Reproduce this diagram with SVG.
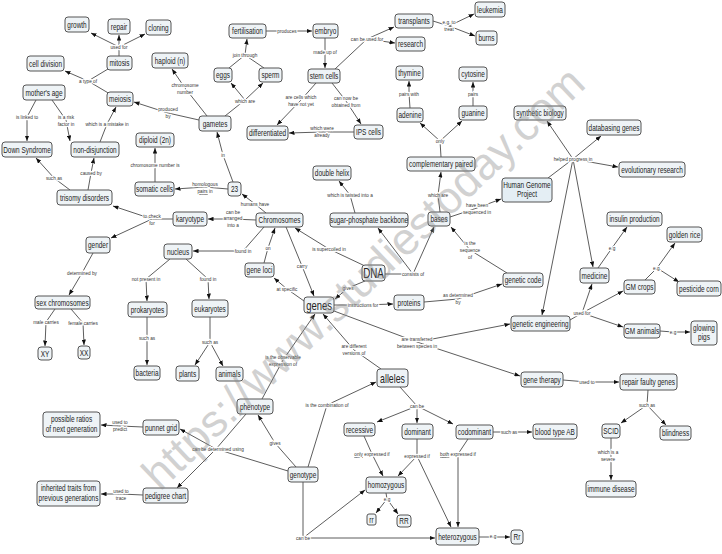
<svg xmlns="http://www.w3.org/2000/svg" width="722" height="554" viewBox="0 0 722 554">
<style>
.bx{fill:#eef3f6;stroke:#555;stroke-width:1}
.hg{fill:#e4eef4}
.n{font-family:"Liberation Sans",Arial,sans-serif;font-size:8.5px;text-anchor:middle;fill:#222}
.big{font-size:13.5px}
.l{font-family:"Liberation Sans",Arial,sans-serif;font-size:6.2px;text-anchor:middle;fill:#333;stroke:#fff;stroke-width:2.4px;paint-order:stroke;stroke-linejoin:round}
.u{text-decoration:underline}
#links path{fill:none;stroke:#333;stroke-width:.8}
#links path.a{marker-end:url(#ah)}
.wm{font-family:"Liberation Sans",Arial,sans-serif;font-size:45px;fill:#888;opacity:.38}
</style>
<defs>
<marker id="ah" viewBox="0 0 10 8" refX="10" refY="4" markerWidth="5.5" markerHeight="4.4" markerUnits="userSpaceOnUse" orient="auto"><path d="M0,0 L10,4 L0,8 z" fill="#111"/></marker>
</defs>
<rect width="722" height="554" fill="#fff"/>
<g id="links">
<path d="M119,56 L119,47"/><path class="a" d="M119,47 L91,33"/><path class="a" d="M119,47 L119,35"/><path class="a" d="M119,47 L145,34"/>
<path d="M108,69 L88,81"/><path d="M110,94 L88,81"/><path class="a" d="M88,81 L65,71"/>
<path d="M36,100 L27,117"/><path class="a" d="M27,117 L27,141"/>
<path d="M52,100 L66,120"/><path class="a" d="M66,120 L70,141"/>
<path d="M100,142 L107,124"/><path class="a" d="M107,124 L116,107"/>
<path d="M70,190 L54,178"/><path class="a" d="M54,178 L36,158"/>
<path d="M88,190 L91,173"/><path class="a" d="M91,173 L94,158"/>
<path d="M207,116 L185,88"/><path class="a" d="M185,88 L172,69"/>
<path d="M199,120 L168,113"/><path class="a" d="M168,113 L134,102"/>
<path d="M233,182 L223,155"/><path class="a" d="M223,155 L217,132"/>
<path d="M228,189 L205,187"/><path class="a" d="M205,187 L175,189"/>
<path d="M155,182 L155,165"/><path class="a" d="M155,165 L155,148"/>
<path d="M266,213 L255,204"/><path class="a" d="M255,204 L242,194"/>
<path d="M256,220 L233,219"/><path class="a" d="M233,219 L208,219"/>
<path d="M173,219 L152,219"/><path class="a" d="M152,219 L113,206"/><path class="a" d="M152,219 L111,238"/>
<path d="M93,253 L82,273"/><path class="a" d="M82,273 L69,295"/>
<path d="M55,309 L46,322"/><path class="a" d="M46,322 L45,346"/>
<path d="M71,309 L83,323"/><path class="a" d="M83,323 L84,345"/>
<path d="M264,227 L243,251"/><path class="a" d="M243,251 L193,251"/>
<path d="M264,263 L268,248"/><path class="a" d="M268,248 L275,228"/>
<path d="M286,227 L302,266"/><path class="a" d="M302,266 L314,296"/>
<path d="M365,266 L329,249"/><path class="a" d="M329,249 L295,228"/>
<path d="M385,274 L413,274"/><path class="a" d="M413,274 L378,228"/><path class="a" d="M413,274 L434,227"/>
<path d="M355,213 L350,195"/><path class="a" d="M350,195 L339,181"/>
<path d="M440,212 L438,195"/><path class="a" d="M438,195 L441,172"/>
<path d="M441,157 L440,141"/><path class="a" d="M440,141 L420,123"/><path class="a" d="M440,141 L462,121"/>
<path d="M410,108 L409,94"/><path class="a" d="M409,94 L409,81"/>
<path d="M473,106 L473,94"/><path class="a" d="M473,94 L473,82"/>
<path d="M450,217 L477,208"/><path class="a" d="M477,208 L501,199"/>
<path d="M507,273 L470,250"/><path class="a" d="M470,250 L451,227"/>
<path d="M424,302 L458,299"/><path class="a" d="M458,299 L502,284"/>
<path d="M365,281 L348,288"/><path class="a" d="M348,288 L335,299"/>
<path d="M334,305 L363,305"/><path class="a" d="M363,305 L393,304"/>
<path d="M304,301 L287,289"/><path class="a" d="M287,289 L274,278"/>
<path d="M334,311 L417,342"/><path class="a" d="M417,342 L510,324"/><path class="a" d="M417,342 L520,376"/>
<path d="M570,320 L582,313"/><path class="a" d="M582,313 L592,284"/><path class="a" d="M582,313 L623,291"/><path class="a" d="M582,313 L623,327"/>
<path d="M548,178 L573,159"/><path class="a" d="M573,159 L547,121"/><path class="a" d="M573,159 L601,136"/><path class="a" d="M573,159 L618,167"/><path class="a" d="M573,159 L593,267"/><path class="a" d="M573,159 L542,315"/>
<path d="M598,268 L612,248"/><path class="a" d="M612,248 L627,227"/>
<path d="M645,280 L657,268"/><path class="a" d="M657,268 L675,243"/><path class="a" d="M657,268 L679,282"/>
<path d="M660,331 L673,332"/><path class="a" d="M673,332 L690,332"/>
<path d="M563,380 L587,382"/><path class="a" d="M587,382 L619,382"/>
<path d="M648,390 L647,405"/><path class="a" d="M647,405 L621,423"/><path class="a" d="M647,405 L666,425"/>
<path d="M611,438 L611,456"/><path class="a" d="M611,456 L611,480"/>
<path d="M493,432 L509,432"/><path class="a" d="M509,432 L532,432"/>
<path d="M479,537 L493,537"/><path class="a" d="M493,537 L510,537"/>
<path d="M400,387 L417,406"/><path class="a" d="M417,406 L377,422"/><path class="a" d="M417,406 L417,423"/><path class="a" d="M417,406 L453,424"/>
<path d="M364,436 L372,454"/><path class="a" d="M372,454 L383,476"/>
<path d="M417,439 L417,456"/><path class="a" d="M417,456 L398,476"/><path class="a" d="M417,456 L451,527"/>
<path d="M468,439 L458,454"/><path class="a" d="M458,454 L458,527"/>
<path d="M386,493 L387,499"/><path class="a" d="M387,499 L376,513"/><path class="a" d="M387,499 L398,514"/>
<path d="M303,482 L303,538"/><path class="a" d="M303,538 L365,490"/><path class="a" d="M303,538 L435,538"/>
<path d="M308,467 L327,405"/><path class="a" d="M327,405 L376,382"/>
<path d="M296,467 L275,443"/><path class="a" d="M275,443 L258,415"/>
<path d="M262,399 L283,360"/><path class="a" d="M283,360 L315,314"/>
<path d="M381,369 L354,350"/><path class="a" d="M354,350 L323,314"/>
<path d="M246,414 L216,449"/><path d="M288,471 L216,449"/><path class="a" d="M216,449 L180,429"/><path class="a" d="M216,449 L177,488"/>
<path d="M143,427 L120,426"/><path class="a" d="M120,426 L101,425"/>
<path d="M143,495 L121,494"/><path class="a" d="M121,494 L101,494"/>
<path d="M170,259 L146,279"/><path class="a" d="M146,279 L147,301"/>
<path d="M186,259 L208,279"/><path class="a" d="M208,279 L209,299"/>
<path d="M147,317 L147,338"/><path class="a" d="M147,338 L147,365"/>
<path d="M210,317 L210,342"/><path class="a" d="M210,342 L195,365"/><path class="a" d="M210,342 L223,366"/>
<path d="M335,69 L367,39"/><path class="a" d="M367,39 L394,27"/><path class="a" d="M367,39 L395,43"/>
<path d="M433,21 L449,26"/><path class="a" d="M449,26 L474,14"/><path class="a" d="M449,26 L475,36"/>
<path d="M325,38 L325,52"/><path class="a" d="M325,52 L325,68"/>
<path d="M266,31 L287,31"/><path class="a" d="M287,31 L312,31"/>
<path d="M229,68 L245,55"/><path d="M264,68 L245,55"/><path class="a" d="M245,55 L247,39"/>
<path d="M225,116 L245,100"/><path class="a" d="M245,100 L231,83"/><path class="a" d="M245,100 L263,83"/>
<path d="M316,83 L301,100"/><path class="a" d="M301,100 L277,125"/>
<path d="M332,83 L346,101"/><path class="a" d="M346,101 L361,124"/>
<path d="M354,132 L322,132"/><path class="a" d="M322,132 L289,133"/>
<g id="labels">
<text class="l" transform="translate(119 49) scale(.76 1)">used for</text>
<text class="l" transform="translate(88 83) scale(.76 1)">a type of</text>
<text class="l" transform="translate(27 119) scale(.76 1)">is linked to</text>
<text class="l" transform="translate(66 119) scale(.76 1)"><tspan x="0">is a risk</tspan><tspan x="0" dy="7">factor in</tspan></text>
<text class="l" transform="translate(107 126) scale(.76 1)">which is a mistake in</text>
<text class="l" transform="translate(54 180) scale(.76 1)">such as</text>
<text class="l" transform="translate(91 175) scale(.76 1)">caused by</text>
<text class="l" transform="translate(185 87) scale(.76 1)"><tspan x="0">chromosome</tspan><tspan x="0" dy="7">number</tspan></text>
<text class="l" transform="translate(168 111) scale(.76 1)"><tspan x="0">produced</tspan><tspan x="0" dy="7">by</tspan></text>
<text class="l" transform="translate(155 167) scale(.76 1)">chromosome number is</text>
<text class="l" transform="translate(205 186) scale(.76 1)"><tspan x="0">homologous</tspan><tspan x="0" dy="7"><tspan class="u">pairs</tspan> in</tspan></text>
<text class="l" transform="translate(223 157) scale(.76 1)">in</text>
<text class="l" transform="translate(287 33) scale(.76 1)">produces</text>
<text class="l" transform="translate(325 54) scale(.76 1)">made up of</text>
<text class="l" transform="translate(367 41) scale(.76 1)">can be used for</text>
<text class="l" transform="translate(449 24) scale(.76 1)"><tspan x="0">e.g. to</tspan><tspan x="0" dy="7">treat</tspan></text>
<text class="l" transform="translate(245 57) scale(.76 1)">join through</text>
<text class="l" transform="translate(245 103) scale(.76 1)">which are</text>
<text class="l" transform="translate(301 99) scale(.76 1)"><tspan x="0">are cells which</tspan><tspan x="0" dy="7">have not yet</tspan></text>
<text class="l" transform="translate(346 100) scale(.76 1)"><tspan x="0">can now be</tspan><tspan x="0" dy="7">obtained from</tspan></text>
<text class="l" transform="translate(322 130) scale(.76 1)"><tspan x="0">which were</tspan><tspan x="0" dy="7">already</tspan></text>
<text class="l" transform="translate(409 96) scale(.76 1)">pairs with</text>
<text class="l" transform="translate(473 96) scale(.76 1)">pairs</text>
<text class="l" transform="translate(440 143) scale(.76 1)">only</text>
<text class="l" transform="translate(573 161) scale(.76 1)">helped progress in</text>
<text class="l" transform="translate(350 197) scale(.76 1)">which is twisted into a</text>
<text class="l" transform="translate(255 206) scale(.76 1)">humans have</text>
<text class="l" transform="translate(233 214) scale(.76 1)"><tspan x="0">can be</tspan><tspan x="0" dy="6.5">arranged</tspan><tspan x="0" dy="6.5">into a</tspan></text>
<text class="l" transform="translate(243 253) scale(.76 1)">found in</text>
<text class="l" transform="translate(268 250) scale(.76 1)">on</text>
<text class="l" transform="translate(302 268) scale(.76 1)">carry</text>
<text class="l" transform="translate(329 251) scale(.76 1)">is supercoiled in</text>
<text class="l" transform="translate(413 276) scale(.76 1)">consists of</text>
<text class="l" transform="translate(438 197) scale(.76 1)">which are</text>
<text class="l" transform="translate(477 207) scale(.76 1)"><tspan x="0">have been</tspan><tspan x="0" dy="7">sequenced in</tspan></text>
<text class="l" transform="translate(470 245) scale(.76 1)"><tspan x="0">is the</tspan><tspan x="0" dy="7">sequence</tspan><tspan x="0" dy="7">of</tspan></text>
<text class="l" transform="translate(287 291) scale(.76 1)">at specific</text>
<text class="l" transform="translate(348 290) scale(.76 1)">gives</text>
<text class="l" transform="translate(363 307) scale(.76 1)">instructions for</text>
<text class="l" transform="translate(458 297) scale(.76 1)"><tspan x="0">as determined</tspan><tspan x="0" dy="7">by</tspan></text>
<text class="l" transform="translate(417 341) scale(.76 1)"><tspan x="0">are transferred</tspan><tspan x="0" dy="7">between species in</tspan></text>
<text class="l" transform="translate(354 348) scale(.76 1)"><tspan x="0">are different</tspan><tspan x="0" dy="7">versions of</tspan></text>
<text class="l" transform="translate(283 359) scale(.76 1)"><tspan x="0">is the observable</tspan><tspan x="0" dy="7">expression of</tspan></text>
<text class="l" transform="translate(612 250) scale(.76 1)">e.g</text>
<text class="l" transform="translate(657 270) scale(.76 1)">e.g.</text>
<text class="l" transform="translate(582 315) scale(.76 1)">used for</text>
<text class="l" transform="translate(673 334) scale(.76 1)">e.g</text>
<text class="l" transform="translate(587 384) scale(.76 1)">used to</text>
<text class="l" transform="translate(647 407) scale(.76 1)">such as</text>
<text class="l" transform="translate(608 454) scale(.76 1)"><tspan x="0">which is a</tspan><tspan x="0" dy="7.5">severe</tspan></text>
<text class="l" transform="translate(509 434) scale(.76 1)">such as</text>
<text class="l" transform="translate(493 538) scale(.76 1)">e.g</text>
<text class="l" transform="translate(417 408) scale(.76 1)">can be</text>
<text class="l" transform="translate(372 456) scale(.76 1)"><tspan class="u">only</tspan> expressed if</text>
<text class="l" transform="translate(417 458) scale(.76 1)">expressed if</text>
<text class="l" transform="translate(458 456) scale(.76 1)"><tspan class="u">both</tspan> expressed if</text>
<text class="l" transform="translate(387 501) scale(.76 1)">e.g</text>
<text class="l" transform="translate(303 540) scale(.76 1)">can be</text>
<text class="l" transform="translate(327 407) scale(.76 1)">is the combination of</text>
<text class="l" transform="translate(275 445) scale(.76 1)">gives</text>
<text class="l" transform="translate(218 451) scale(.76 1)">can be determined using</text>
<text class="l" transform="translate(120 424) scale(.76 1)"><tspan x="0">used to</tspan><tspan x="0" dy="7.5">predict</tspan></text>
<text class="l" transform="translate(121 493) scale(.76 1)"><tspan x="0">used to</tspan><tspan x="0" dy="7">trace</tspan></text>
<text class="l" transform="translate(152 218) scale(.76 1)"><tspan x="0">to check</tspan><tspan x="0" dy="7">for</tspan></text>
<text class="l" transform="translate(82 275) scale(.76 1)">determined by</text>
<text class="l" transform="translate(46 324) scale(.76 1)">male carries</text>
<text class="l" transform="translate(83 325) scale(.76 1)">female carries</text>
<text class="l" transform="translate(146 281) scale(.76 1)">not present in</text>
<text class="l" transform="translate(208 281) scale(.76 1)">found in</text>
<text class="l" transform="translate(147 340) scale(.76 1)">such as</text>
<text class="l" transform="translate(210 344) scale(.76 1)">such as</text>
</g>
</g>
<g id="nodes">
<g id="n-growth"><rect class="bx" x="65" y="17" width="24" height="15" rx="3"/><text class="n" transform="translate(77 27.5) scale(.76 1)">growth</text></g>
<g id="n-repair"><rect class="bx" x="108" y="19" width="22" height="15" rx="3"/><text class="n" transform="translate(119 29.5) scale(.76 1)">repair</text></g>
<g id="n-cloning"><rect class="bx" x="146" y="20" width="25" height="15" rx="3"/><text class="n" transform="translate(158.5 30.5) scale(.76 1)">cloning</text></g>
<g id="n-mitosis"><rect class="bx" x="107" y="56" width="25" height="14" rx="3"/><text class="n" transform="translate(119.5 66) scale(.76 1)">mitosis</text></g>
<g id="n-celldivision"><rect class="bx" x="27" y="56" width="37" height="15" rx="3"/><text class="n" transform="translate(45.5 66.5) scale(.76 1)">cell division</text></g>
<g id="n-meiosis"><rect class="bx" x="107" y="92" width="26" height="14" rx="3"/><text class="n" transform="translate(120 102) scale(.76 1)">meiosis</text></g>
<g id="n-mothersage"><rect class="bx" x="23" y="85" width="42" height="15" rx="3"/><text class="n" transform="translate(44 95.5) scale(.76 1)">mother's age</text></g>
<g id="n-downsyndrome"><rect class="bx" x="2" y="142" width="50" height="15" rx="3"/><text class="n" transform="translate(27 152.5) scale(.76 1)">Down Syndrome</text></g>
<g id="n-nondisjunction"><rect class="bx" x="71" y="142" width="48" height="15" rx="3"/><text class="n" transform="translate(95 152.5) scale(.76 1)">non-disjunction</text></g>
<g id="n-haploid"><rect class="bx" x="152" y="53" width="36" height="15" rx="3"/><text class="n" transform="translate(170 63.5) scale(.76 1)">haploid (n)</text></g>
<g id="n-gametes"><rect class="bx" x="199" y="116" width="32" height="15" rx="3"/><text class="n" transform="translate(215 126.5) scale(.76 1)">gametes</text></g>
<g id="n-diploid"><rect class="bx" x="136" y="133" width="38" height="14" rx="3"/><text class="n" transform="translate(155 143) scale(.76 1)">diploid (2n)</text></g>
<g id="n-somaticcells"><rect class="bx" x="135" y="182" width="39" height="14" rx="3"/><text class="n" transform="translate(154.5 192) scale(.76 1)">somatic cells</text></g>
<g id="n-23"><rect class="bx" x="228" y="182" width="13" height="14" rx="3"/><text class="n" transform="translate(234.5 192) scale(.76 1)">23</text></g>
<g id="n-fertilisation"><rect class="bx" x="229" y="24" width="37" height="14" rx="3"/><text class="n" transform="translate(247.5 34) scale(.76 1)">fertilisation</text></g>
<g id="n-embryo"><rect class="bx" x="313" y="24" width="25" height="14" rx="3"/><text class="n" transform="translate(325.5 34) scale(.76 1)">embryo</text></g>
<g id="n-stemcells"><rect class="bx" x="308" y="69" width="32" height="14" rx="3"/><text class="n" transform="translate(324 79) scale(.76 1)">stem cells</text></g>
<g id="n-transplants"><rect class="bx" x="395" y="14" width="38" height="14" rx="3"/><text class="n" transform="translate(414 24) scale(.76 1)">transplants</text></g>
<g id="n-research"><rect class="bx" x="396" y="37" width="29" height="14" rx="3"/><text class="n" transform="translate(410.5 47) scale(.76 1)">research</text></g>
<g id="n-leukemia"><rect class="bx" x="475" y="2" width="30" height="15" rx="3"/><text class="n" transform="translate(490 12.5) scale(.76 1)">leukemia</text></g>
<g id="n-burns"><rect class="bx" x="476" y="31" width="21" height="14" rx="3"/><text class="n" transform="translate(486.5 41) scale(.76 1)">burns</text></g>
<g id="n-eggs"><rect class="bx" x="214" y="68" width="18" height="14" rx="3"/><text class="n" transform="translate(223 78) scale(.76 1)">eggs</text></g>
<g id="n-sperm"><rect class="bx" x="259" y="68" width="23" height="14" rx="3"/><text class="n" transform="translate(270.5 78) scale(.76 1)">sperm</text></g>
<g id="n-differentiated"><rect class="bx" x="247" y="126" width="41" height="14" rx="3"/><text class="n" transform="translate(267.5 136) scale(.76 1)">differentiated</text></g>
<g id="n-ipscells"><rect class="bx" x="354" y="125" width="29" height="14" rx="3"/><text class="n" transform="translate(368.5 135) scale(.76 1)">IPS cells</text></g>
<g id="n-thymine"><rect class="bx" x="396" y="66" width="27" height="14" rx="3"/><text class="n" transform="translate(409.5 76) scale(.76 1)">thymine</text></g>
<g id="n-adenine"><rect class="bx" x="397" y="108" width="26" height="14" rx="3"/><text class="n" transform="translate(410 118) scale(.76 1)">adenine</text></g>
<g id="n-cytosine"><rect class="bx" x="459" y="67" width="28" height="14" rx="3"/><text class="n" transform="translate(473 77) scale(.76 1)">cytosine</text></g>
<g id="n-guanine"><rect class="bx" x="459" y="106" width="28" height="14" rx="3"/><text class="n" transform="translate(473 116) scale(.76 1)">guanine</text></g>
<g id="n-complementary"><rect class="bx" x="407" y="157" width="68" height="14" rx="3"/><text class="n" transform="translate(441 167) scale(.76 1)">complementary paired</text></g>
<g id="n-doublehelix"><rect class="bx" x="313" y="166" width="38" height="14" rx="3"/><text class="n" transform="translate(332 176) scale(.76 1)">double helix</text></g>
<g id="n-syntheticbiology"><rect class="bx" x="514" y="106" width="52" height="14" rx="3"/><text class="n" transform="translate(540 116) scale(.76 1)">synthetic biology</text></g>
<g id="n-databasing"><rect class="bx" x="587" y="120" width="54" height="15" rx="3"/><text class="n" transform="translate(614 130.5) scale(.76 1)">databasing genes</text></g>
<g id="n-evolutionary"><rect class="bx" x="619" y="162" width="66" height="15" rx="3"/><text class="n" transform="translate(652 172.5) scale(.76 1)">evolutionary research</text></g>
<g id="n-hgp"><rect class="bx hg" x="502" y="178" width="50" height="24" rx="3"/><text class="n" transform="translate(527 188) scale(.76 1)"><tspan x="0">Human Genome</tspan><tspan x="0" dy="9.5">Project</tspan></text></g>
<g id="n-chromosomes"><rect class="bx" x="256" y="213" width="47" height="14" rx="3"/><text class="n" transform="translate(279.5 223) scale(.76 1)">Chromosomes</text></g>
<g id="n-geneloci"><rect class="bx" x="245" y="263" width="29" height="14" rx="3"/><text class="n" transform="translate(259.5 273) scale(.76 1)">gene loci</text></g>
<g id="n-dna"><rect class="bx" x="362" y="265" width="23" height="16" rx="3"/><text class="n big" transform="translate(373.5 278) scale(.7 1)" style="font-size:14px">DNA</text></g>
<g id="n-sugar"><rect class="bx" x="330" y="213" width="78" height="14" rx="3"/><text class="n" transform="translate(369 223) scale(.76 1)">sugar-phosphate backbone</text></g>
<g id="n-bases"><rect class="bx" x="428" y="212" width="22" height="14" rx="3"/><text class="n" transform="translate(439 222) scale(.76 1)">bases</text></g>
<g id="n-geneticcode"><rect class="bx" x="503" y="273" width="40" height="14" rx="3"/><text class="n" transform="translate(523 283) scale(.76 1)">genetic code</text></g>
<g id="n-genes"><rect class="bx" x="304" y="297" width="30" height="16" rx="3"/><text class="n big" transform="translate(319 309.5) scale(.7 1)">genes</text></g>
<g id="n-proteins"><rect class="bx" x="394" y="295" width="30" height="15" rx="3"/><text class="n" transform="translate(409 305.5) scale(.76 1)">proteins</text></g>
<g id="n-insulin"><rect class="bx" x="607" y="212" width="55" height="14" rx="3"/><text class="n" transform="translate(634.5 222) scale(.76 1)">insulin production</text></g>
<g id="n-goldenrice"><rect class="bx" x="667" y="227" width="35" height="15" rx="3"/><text class="n" transform="translate(684.5 237.5) scale(.76 1)">golden rice</text></g>
<g id="n-medicine"><rect class="bx" x="580" y="268" width="29" height="15" rx="3"/><text class="n" transform="translate(594.5 278.5) scale(.76 1)">medicine</text></g>
<g id="n-gmcrops"><rect class="bx" x="624" y="280" width="31" height="14" rx="3"/><text class="n" transform="translate(639.5 290) scale(.76 1)">GM crops</text></g>
<g id="n-pesticidecorn"><rect class="bx" x="677" y="281" width="44" height="15" rx="3"/><text class="n" transform="translate(699 291.5) scale(.76 1)">pesticide corn</text></g>
<g id="n-geneticengineering"><rect class="bx" x="511" y="316" width="59" height="15" rx="3"/><text class="n" transform="translate(540.5 326.5) scale(.76 1)">genetic engineering</text></g>
<g id="n-gmanimals"><rect class="bx" x="624" y="324" width="36" height="14" rx="3"/><text class="n" transform="translate(642 334) scale(.76 1)">GM animals</text></g>
<g id="n-glowingpigs"><rect class="bx" x="691" y="321" width="26" height="24" rx="3"/><text class="n" transform="translate(704 331) scale(.76 1)"><tspan x="0">glowing</tspan><tspan x="0" dy="9.5">pigs</tspan></text></g>
<g id="n-genetherapy"><rect class="bx" x="521" y="372" width="42" height="15" rx="3"/><text class="n" transform="translate(542 382.5) scale(.76 1)">gene therapy</text></g>
<g id="n-repairfaulty"><rect class="bx" x="620" y="374" width="57" height="16" rx="3"/><text class="n" transform="translate(648.5 385) scale(.76 1)">repair faulty genes</text></g>
<g id="n-scid"><rect class="bx" x="602" y="424" width="18" height="14" rx="3"/><text class="n" transform="translate(611 434) scale(.76 1)">SCID</text></g>
<g id="n-blindness"><rect class="bx" x="660" y="426" width="31" height="14" rx="3"/><text class="n" transform="translate(675.5 436) scale(.76 1)">blindness</text></g>
<g id="n-immune"><rect class="bx" x="586" y="481" width="50" height="16" rx="3"/><text class="n" transform="translate(611 492) scale(.76 1)">immune disease</text></g>
<g id="n-codominant"><rect class="bx" x="456" y="425" width="37" height="14" rx="3"/><text class="n" transform="translate(474.5 435) scale(.76 1)">codominant</text></g>
<g id="n-bloodtype"><rect class="bx" x="533" y="424" width="44" height="15" rx="3"/><text class="n" transform="translate(555 434.5) scale(.76 1)">blood type AB</text></g>
<g id="n-Rr"><rect class="bx" x="511" y="530" width="12" height="14" rx="3"/><text class="n" transform="translate(517 540) scale(.76 1)">Rr</text></g>
<g id="n-alleles"><rect class="bx" x="377" y="369" width="31" height="18" rx="3"/><text class="n big" transform="translate(392.5 382.5) scale(.7 1)" style="font-size:12.5px">alleles</text></g>
<g id="n-recessive"><rect class="bx" x="344" y="423" width="31" height="13" rx="3"/><text class="n" transform="translate(359.5 432.5) scale(.76 1)">recessive</text></g>
<g id="n-dominant"><rect class="bx" x="402" y="424" width="31" height="15" rx="3"/><text class="n" transform="translate(417.5 434.5) scale(.76 1)">dominant</text></g>
<g id="n-homozygous"><rect class="bx" x="366" y="477" width="40" height="16" rx="3"/><text class="n" transform="translate(386 488) scale(.76 1)">homozygous</text></g>
<g id="n-rr"><rect class="bx" x="367" y="514" width="9" height="11" rx="2"/><text class="n" transform="translate(371.5 522.5) scale(.76 1)">rr</text></g>
<g id="n-RR"><rect class="bx" x="397" y="515" width="14" height="12" rx="3"/><text class="n" transform="translate(404 524) scale(.76 1)">RR</text></g>
<g id="n-heterozygous"><rect class="bx" x="436" y="528" width="43" height="17" rx="3"/><text class="n" transform="translate(457.5 539.5) scale(.76 1)">heterozygous</text></g>
<g id="n-genotype"><rect class="bx" x="288" y="467" width="30" height="15" rx="3"/><text class="n" transform="translate(303 477.5) scale(.76 1)">genotype</text></g>
<g id="n-phenotype"><rect class="bx" x="237" y="399" width="36" height="15" rx="3"/><text class="n" transform="translate(255 409.5) scale(.76 1)">phenotype</text></g>
<g id="n-ratios"><rect class="bx" x="43" y="412" width="57" height="25" rx="3"/><text class="n" transform="translate(71.5 422) scale(.76 1)"><tspan x="0">possible ratios</tspan><tspan x="0" dy="10">of next generation</tspan></text></g>
<g id="n-punnet"><rect class="bx" x="143" y="420" width="36" height="15" rx="3"/><text class="n" transform="translate(161 430.5) scale(.76 1)">punnet grid</text></g>
<g id="n-inherited"><rect class="bx" x="37" y="481" width="63" height="25" rx="3"/><text class="n" transform="translate(68.5 491) scale(.76 1)"><tspan x="0">inherited traits from</tspan><tspan x="0" dy="10">previous generations</tspan></text></g>
<g id="n-pedigree"><rect class="bx" x="143" y="488" width="45" height="15" rx="3"/><text class="n" transform="translate(165.5 498.5) scale(.76 1)">pedigree chart</text></g>
<g id="n-bacteria"><rect class="bx" x="134" y="366" width="26" height="14" rx="3"/><text class="n" transform="translate(147 376) scale(.76 1)">bacteria</text></g>
<g id="n-plants"><rect class="bx" x="176" y="366" width="23" height="15" rx="3"/><text class="n" transform="translate(187.5 376.5) scale(.76 1)">plants</text></g>
<g id="n-animals"><rect class="bx" x="216" y="367" width="27" height="14" rx="3"/><text class="n" transform="translate(229.5 377) scale(.76 1)">animals</text></g>
<g id="n-trisomy"><rect class="bx" x="57" y="190" width="55" height="15" rx="3"/><text class="n" transform="translate(84.5 200.5) scale(.76 1)">trisomy disorders</text></g>
<g id="n-karyotype"><rect class="bx" x="173" y="212" width="34" height="14" rx="3"/><text class="n" transform="translate(190 222) scale(.76 1)">karyotype</text></g>
<g id="n-gender"><rect class="bx" x="86" y="237" width="24" height="16" rx="3"/><text class="n" transform="translate(98 248) scale(.76 1)">gender</text></g>
<g id="n-sexchromosomes"><rect class="bx" x="35" y="296" width="55" height="13" rx="3"/><text class="n" transform="translate(62.5 305.5) scale(.76 1)">sex chromosomes</text></g>
<g id="n-XY"><rect class="bx" x="38" y="347" width="14" height="13" rx="3"/><text class="n" transform="translate(45 356.5) scale(.76 1)">XY</text></g>
<g id="n-XX"><rect class="bx" x="78" y="346" width="12" height="13" rx="3"/><text class="n" transform="translate(84 355.5) scale(.76 1)">XX</text></g>
<g id="n-nucleus"><rect class="bx" x="164" y="244" width="28" height="15" rx="3"/><text class="n" transform="translate(178 254.5) scale(.76 1)">nucleus</text></g>
<g id="n-prokaryotes"><rect class="bx" x="128" y="302" width="39" height="15" rx="3"/><text class="n" transform="translate(147.5 312.5) scale(.76 1)">prokaryotes</text></g>
<g id="n-eukaryotes"><rect class="bx" x="192" y="300" width="36" height="17" rx="3"/><text class="n" transform="translate(210 311.5) scale(.76 1)">eukaryotes</text></g>
</g>
<text class="wm" transform="translate(160 492) rotate(-43.5)">https://www.studiestoday.com</text>
</svg>
